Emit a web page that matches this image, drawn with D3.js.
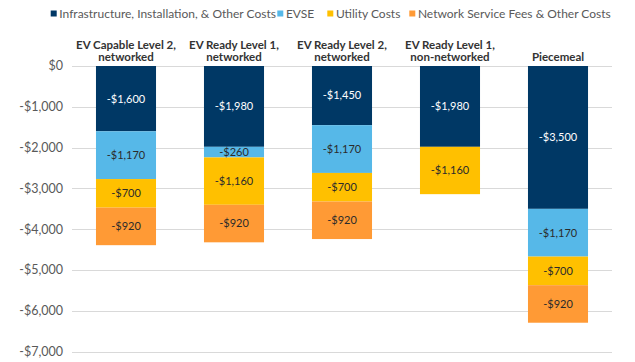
<!DOCTYPE html>
<html>
<head>
<meta charset="utf-8">
<script src="https://cdn.jsdelivr.net/npm/d3@7"></script>
<style>
  body { margin: 0; background: #fff; }
  svg { display: block; font-family: Lato, "Open Sans", sans-serif; }
</style>
</head>
<body>
<div id="chart"></div>
<script>
// categories (two-line labels)
const categories = ['EV Capable Level 2, networked', 'EV Ready Level 1, networked', 'EV Ready Level 2, networked', 'EV Ready Level 1, non-networked', 'Piecemeal'];
const categoryLines = [
    ['EV Capable Level 2,', 'networked'],
    ['EV Ready Level 1,', 'networked'],
    ['EV Ready Level 2,', 'networked'],
    ['EV Ready Level 1,', 'non-networked'],
    ['Piecemeal']
];
// series
const seriesNames = ['Infrastructure, Installation, & Other Costs', 'EVSE', 'Utility Costs', 'Network Service Fees & Other Costs'];
const infrastructure = [-1600, -1980, -1450, -1980, -3500];
const evse = [-1170, -260, -1170, 0, -1170];
const utility = [-700, -1160, -700, -1160, -700];
const network = [-920, -920, -920, 0, -920];
const yTicks = [0, -1000, -2000, -3000, -4000, -5000, -6000, -7000];

const colors = ['#003865', '#56B8E8', '#FFC000', '#FF9A35'];
const labelColors = ['#ffffff', '#2b2b2b', '#2b2b2b', '#2b2b2b'];

const width = 635, height = 362;
const margin = { top: 66, right: 23, bottom: 10, left: 72 };
// legend item x positions
const legendX = [50.7, 277.3, 327.3, 409.3];

const svg = d3.select('#chart').append('svg')
    .attr('width', width)
    .attr('height', height);

const x = d3.scaleBand()
    .domain(categories)
    .range([margin.left, width - margin.right])
    .paddingInner(0.444)
    .paddingOuter(0.222);

const y = d3.scaleLinear()
    .domain([-7000, 0])
    .range([351.7, margin.top]);

// 网格线
svg.append('g')
    .selectAll('line')
    .data(yTicks)
    .join('line')
    .attr('x1', margin.left)
    .attr('x2', width - margin.right)
    .attr('y1', d => Math.round(y(d)) + 0.5)
    .attr('y2', d => Math.round(y(d)) + 0.5)
    .attr('stroke', '#d9d9d9')
    .attr('stroke-width', 1);

// y 轴文字
const fmt = d => (d < 0 ? '-$' : '$') + d3.format(',')(Math.abs(d));
svg.append('g')
    .selectAll('text')
    .data(yTicks)
    .join('text')
    .attr('x', 63)
    .attr('y', d => y(d))
    .attr('dy', '0.35em')
    .attr('text-anchor', 'end')
    .attr('font-size', '12.5px')
    .attr('fill', '#595959')
    .text(fmt);

// stack
const rows = categories.map((c, i) => ({
    cat: c,
    values: [infrastructure[i], evse[i], utility[i], network[i]]
}));
const segments = [];
rows.forEach(r => {
    let acc = 0;
    r.values.forEach((v, k) => {
        if (v === 0) return;
        segments.push({ cat: r.cat, k: k, v: v, y0: acc, y1: acc + v });
        acc += v;
    });
});

const barG = svg.append('g');
barG.selectAll('rect')
    .data(segments)
    .join('rect')
    .attr('x', d => x(d.cat))
    .attr('width', x.bandwidth())
    .attr('y', d => y(d.y0))
    .attr('height', d => y(d.y1) - y(d.y0))
    .attr('fill', d => colors[d.k]);

barG.selectAll('text')
    .data(segments)
    .join('text')
    .attr('x', d => x(d.cat) + x.bandwidth() / 2)
    .attr('y', d => (y(d.y0) + y(d.y1)) / 2)
    .attr('dy', '0.35em')
    .attr('text-anchor', 'middle')
    .attr('font-size', '11px')
    .attr('fill', d => labelColors[d.k])
    .text(d => fmt(d.v));

// 类别标签
const catG = svg.append('g')
    .selectAll('text')
    .data(categories)
    .join('text')
    .attr('x', d => x(d) + x.bandwidth() / 2)
    .attr('text-anchor', 'middle')
    .attr('font-size', '11.5px')
    .attr('font-weight', 'bold')
    .attr('fill', '#333333');
catG.selectAll('tspan')
    .data((d, i) => categoryLines[i].map((t, j, arr) => ({ t: t, j: j, n: arr.length })))
    .join('tspan')
    .attr('x', function () { return this.parentNode.getAttribute('x'); })
    .attr('y', d => 60.5 - (d.n - 1 - d.j) * 11.5)
    .text(d => d.t);

// 图例
const legend = svg.append('g')
    .selectAll('g')
    .data(seriesNames)
    .join('g')
    .attr('transform', (d, i) => `translate(${legendX[i]}, 10)`);
legend.append('rect')
    .attr('width', 6)
    .attr('height', 6)
    .attr('y', 0.5)
    .attr('fill', (d, i) => colors[i]);
legend.append('text')
    .attr('x', 8.6)
    .attr('y', 3.5)
    .attr('dy', '0.35em')
    .attr('font-size', '12px')
    .attr('fill', '#595959')
    .text(d => d);
</script>
</body>
</html>
